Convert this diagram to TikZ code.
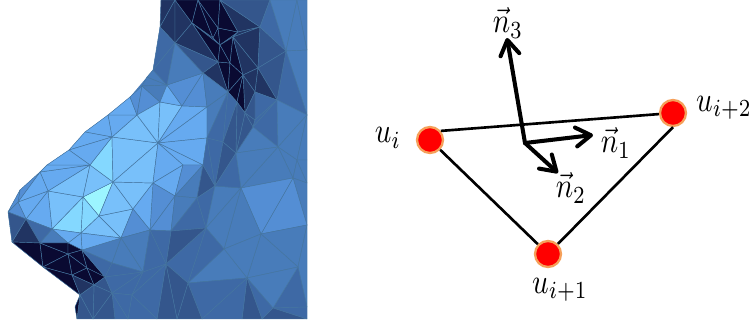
\documentclass[tikz,border=0pt]{standalone}
\usetikzlibrary{arrows.meta}

\definecolor{face0}{RGB}{156,245,255}
\definecolor{face1}{RGB}{132,216,255}
\definecolor{face2}{RGB}{120,192,250}
\definecolor{face3}{RGB}{102,170,240}
\definecolor{face4}{RGB}{84,142,212}
\definecolor{face5}{RGB}{72,124,186}
\definecolor{face6}{RGB}{62,105,165}
\definecolor{face7}{RGB}{52,86,140}
\definecolor{face8}{RGB}{33,52,98}
\definecolor{face9}{RGB}{10,10,50}
\definecolor{meshedge}{RGB}{70,118,160}
\definecolor{vertexrim}{RGB}{245,160,90}

\tikzset{
  facet/.style={draw=meshedge, line width=0.25pt, line join=round},
  vertexdot/.style={circle, fill=red, draw=vertexrim, line width=1.3pt, minimum size=0.52cm, inner sep=0pt},
  edgeline/.style={black, line width=1.5pt},
  normalarrow/.style={black, line width=2.3pt, line cap=round, -{Straight Barb[length=3mm, width=3.8mm, line width=2.3pt, round]}},
  mathlabel/.style={inner sep=0pt, xscale=1.65, yscale=2},
}

\begin{document}
\begin{tikzpicture}[x=0.02cm, y=-0.02cm]

\useasboundingbox (0,0) rectangle (750,327);

% Mesh points
\foreach \n/\x/\y in {
  1/48/191, 2/83/197, 3/113/182, 4/90/165, 5/40/172, 6/18/202, 7/8/212, 8/26/219, 9/52/229, 10/81/233,
  11/99/216, 12/133/209, 13/121/238, 14/82/250, 15/68/243, 16/40/243, 17/12/242, 18/68/254, 19/87/268, 20/105/277,
  21/94/285, 22/80/295, 23/72/275, 24/43/267, 25/112/263, 26/143/272, 27/153/183, 29/112/137, 30/85/132, 31/69/150,
  32/47/165, 33/108/115, 34/137/115, 35/158/143, 36/130/97, 37/142/86, 38/147/77, 39/153/70, 40/160/27, 41/161/0,
  42/167/85, 43/160/102, 44/182/106, 45/207/107, 46/207/138, 47/203/73, 48/175/43, 49/192/23, 50/175/0, 51/198/0,
  52/213/38, 53/218/28, 54/230/63, 55/220/45, 56/218/62, 57/233/37, 58/243/75, 59/258/68, 60/260/27, 61/238/32,
  62/286/51, 63/277/100, 64/255/92, 65/255/120, 66/245/113, 67/237/102, 68/228/92, 69/307/115, 70/270/0, 71/297/0,
  72/307/50, 73/220/0, 74/278/147, 75/236/153, 76/223/142, 77/253/127, 78/241/188, 79/293/178, 80/261/234, 81/224/249,
  82/206/228, 83/197/198, 84/215/186, 85/171/231, 86/175/196, 87/183/165, 88/203/165, 90/150/230, 91/298/267, 92/247/278,
  93/273/308, 94/307/307, 95/188/283, 96/166/264, 97/307/225, 98/307/183, 99/297/160, 100/307/160, 102/262/319, 103/242/319,
  104/202/319, 105/177/319, 106/157/319, 107/307/319, 108/112/293, 109/115/319, 110/93/319, 111/77/319, 112/75/307, 113/132/295,
  114/128/319, 115/20/190, 116/307/0}
  \coordinate (v\n) at (\x,\y);

% Base of the head
\fill[face5] (v41) -- (v40) -- (v39) -- (v38) -- (v36) -- (v33) -- (v30) -- (v31) -- (v32) -- (v5) -- (v115) -- (v7) -- (v17)
  -- (v24) -- (v22) -- (v112) -- (v111) -- (v107) -- (v116) -- cycle;

% Facets
\foreach \a/\b/\c/\f in {
  2/3/11/face0, 2/11/10/face1, 9/2/10/face1, 11/10/13/face2, 11/12/13/face2, 3/11/12/face2, 1/2/9/face2, 1/2/4/face2,
  2/3/4/face2, 1/4/5/face3, 1/8/9/face3, 1/6/8/face3, 1/5/6/face3, 6/7/8/face4, 5/115/6/face4, 115/7/6/face4,
  3/27/12/face2, 29/4/3/face1, 29/3/35/face2, 35/3/27/face2, 29/34/35/face2, 29/33/34/face3, 30/33/29/face3, 30/29/31/face3,
  31/29/4/face3, 5/32/4/face3, 32/31/4/face3, 33/36/34/face3, 36/37/34/face4, 37/43/34/face4, 37/38/42/face5, 38/39/42/face5,
  37/42/43/face5, 34/43/35/face2, 43/44/35/face2, 42/44/43/face3, 42/47/44/face4, 44/47/45/face4, 44/45/35/face3, 35/45/46/face3,
  35/46/88/face3, 35/88/87/face3, 35/87/27/face3, 27/87/86/face3, 27/86/90/face4, 86/85/90/face4, 87/88/86/face4, 88/83/86/face5,
  86/83/85/face5, 85/83/82/face6, 88/84/83/face7, 46/84/88/face6, 82/83/84/face6, 82/84/78/face5, 45/68/46/face5, 68/76/46/face6,
  46/76/84/face6, 76/75/84/face7, 75/78/84/face6,
  41/40/50/face8, 40/48/50/face8, 50/48/49/face8, 50/49/51/face9, 39/40/48/face6, 39/48/42/face6, 42/48/47/face5, 48/49/56/face8,
  48/56/47/face7, 47/56/68/face8, 56/54/68/face9, 47/68/45/face5, 51/49/52/face9, 51/52/53/face9, 51/53/73/face9, 49/52/55/face9,
  49/55/56/face9, 52/53/55/face9, 53/61/55/face9, 55/61/57/face9, 55/57/54/face9, 55/54/56/face9, 54/57/58/face9, 73/53/61/face9,
  73/61/60/face8, 73/60/70/face7, 61/60/57/face8, 57/60/59/face8, 57/59/58/face8, 59/60/62/face7, 60/70/62/face6, 70/71/62/face5,
  71/72/62/face5, 71/116/72/face5, 62/72/69/face5, 62/69/63/face6, 59/62/63/face7, 58/59/64/face8, 59/64/63/face8, 54/58/68/face9, 58/67/68/face9,
  58/64/66/face8, 58/66/67/face9, 64/63/65/face6, 64/65/66/face7, 66/65/77/face7, 65/63/77/face6, 63/74/77/face6,
  63/69/74/face5, 77/74/75/face5, 66/77/75/face7, 67/66/75/face7, 68/67/76/face6, 67/75/76/face7,
  69/74/99/face5, 69/100/99/face5, 74/99/79/face5, 74/79/78/face5, 75/74/78/face5, 99/98/79/face5, 99/100/98/face5, 79/98/97/face5,
  79/97/80/face4, 78/79/80/face4, 78/80/81/face5, 78/81/82/face5, 80/97/91/face5, 91/97/94/face5, 80/91/92/face5, 80/92/81/face5,
  81/92/95/face5, 81/95/82/face6, 82/95/96/face6, 82/96/85/face7, 90/85/96/face6, 91/94/93/face6, 91/93/92/face5, 92/93/102/face6,
  92/102/103/face7, 92/103/104/face6, 92/104/95/face6, 95/104/105/face7, 95/105/96/face7, 96/105/106/face7, 93/94/107/face6, 93/107/102/face7,
  12/27/90/face3, 12/90/13/face4, 13/90/26/face5, 90/96/26/face6, 25/13/26/face5, 14/13/25/face5, 10/13/14/face3, 10/15/14/face3,
  9/10/15/face3, 9/15/16/face5, 8/9/16/face6, 8/16/17/face8, 7/8/17/face7, 17/16/24/face9, 16/18/24/face9, 15/16/18/face9,
  15/14/18/face9, 14/19/18/face9, 14/20/19/face9, 14/25/20/face6, 18/19/23/face9, 24/18/23/face9, 24/23/22/face9, 23/19/21/face9,
  23/21/22/face8, 19/20/21/face9, 25/26/20/face6, 21/20/108/face7, 20/26/108/face6, 108/26/113/face6, 26/96/113/face6, 113/96/106/face6,
  113/106/114/face6, 108/113/114/face6, 108/114/109/face6, 21/108/110/face7, 108/109/110/face7, 21/110/22/face7, 22/110/111/face7, 22/111/112/face9}
  \filldraw[facet, fill=\f] (v\a) -- (v\b) -- (v\c) -- cycle;

% Triangle
\node[vertexdot] (ui) at (430,140) {};
\node[vertexdot] (uk) at (673,113) {};
\node[vertexdot] (uj) at (548,254) {};
\draw[edgeline] (ui.40) -- (uk);
\draw[edgeline] (ui) -- (uj);
\draw[edgeline] (uj) -- (uk.south);

% Normals
\coordinate (origin) at (525,143);
\coordinate (tip1) at (593,135);
\coordinate (tip2) at (558,173);
\coordinate (tip3) at (507,38);
\draw[normalarrow] (origin) -- (tip1);
\draw[normalarrow] (origin) -- (tip2);
\draw[normalarrow] (origin) -- (tip3);

% Labels
\node[mathlabel] (labeli) at (388,138) {$u_i$};
\node[mathlabel] (labelk) at (724,108) {$u_{i+2}$};
\node[mathlabel] (labelj) at (560,290) {$u_{i+1}$};
\node[mathlabel] (labeln1) at (616,143) {$\vec{n}_1$};
\node[mathlabel] (labeln2) at (571,188) {$\vec{n}_2$};
\node[mathlabel] (labeln3) at (508,23) {$\vec{n}_3$};

\end{tikzpicture}
\end{document}
